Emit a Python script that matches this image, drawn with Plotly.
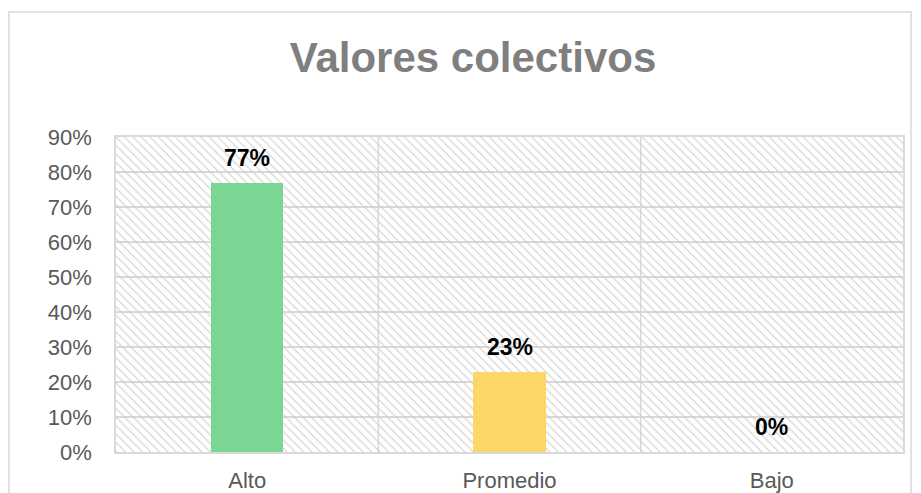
import plotly.graph_objects as go

categories = ["Alto", "Promedio", "Bajo"]
values = [0.77, 0.23, 0.0]
labels = ["77%", "23%", "0%"]
bar_colors = ["#7BD593", "#FDD66A", "#A5A5A5"]
ytick_vals = [0, 0.1, 0.2, 0.3, 0.4, 0.5, 0.6, 0.7, 0.8, 0.9]
ytick_text = ["0%", "10%", "20%", "30%", "40%", "50%", "60%", "70%", "80%", "90%"]
title_text = "Valores colectivos"

W, H = 921, 493
L, R, T, B = 116, 18, 137, 41
pw, ph = W - L - R, H - T - B

fig = go.Figure()

# hatched plot-area background
fig.add_trace(go.Bar(
    x=categories, y=[ytick_vals[-1]] * len(categories), width=1,
    marker=dict(color="rgba(0,0,0,0)", line=dict(width=0),
                pattern=dict(shape="\\", size=6, solidity=0.16,
                             fgcolor="#cccccc", bgcolor="rgba(0,0,0,0)",
                             fillmode="replace")),
    hoverinfo="skip", showlegend=False,
))

fig.add_trace(go.Bar(
    x=categories, y=values, width=0.275,
    marker=dict(color=bar_colors, line=dict(width=0)),
    showlegend=False,
))

for c, v, t in zip(categories, values, labels):
    fig.add_annotation(x=c, y=v, text="<b>%s</b>" % t, showarrow=False,
                       yanchor="bottom", yshift=10,
                       font=dict(family="Liberation Sans, Arial", size=23, color="#000000"))

# category separators
for xv in [0.5, 1.5]:
    fig.add_shape(type="line", xref="x", yref="y", x0=xv, x1=xv, y0=0, y1=0.9,
                  line=dict(color="#d9d9d9", width=1.5), layer="below")

# outer chart border
fig.add_shape(type="rect", xref="paper", yref="paper",
              x0=(9 - L) / pw, x1=(911 - L) / pw,
              y0=(H - B - 520) / ph, y1=(H - B - 12) / ph,
              line=dict(color="#d9d9d9", width=1.5), layer="below")

fig.update_layout(
    width=W, height=H,
    margin=dict(l=L, r=R, t=T, b=B, autoexpand=False),
    paper_bgcolor="white", plot_bgcolor="white",
    barmode="overlay",
    bargap=0,
    title=dict(text="<b>%s</b>" % title_text, x=473 / W, xref="container", xanchor="center",
               y=1 - 57 / H, yref="container", yanchor="middle",
               font=dict(family="Liberation Sans, Arial", size=42, color="#7F7F7F")),
    font=dict(family="Liberation Sans, Arial", size=22, color="#595959"),
)
fig.update_xaxes(type="category", range=[-0.5, 2.5], showgrid=False, automargin=False,
                 showline=True, mirror=True, linecolor="#d9d9d9", linewidth=1.5,
                 ticks="outside", ticklen=8, tickcolor="rgba(0,0,0,0)",
                 tickfont=dict(size=22, color="#595959"))
fig.update_yaxes(range=[0, 0.9], tickvals=ytick_vals, ticktext=ytick_text, automargin=False,
                 showgrid=True, gridcolor="#d9d9d9", gridwidth=1.5,
                 showline=True, mirror=True, linecolor="#d9d9d9", linewidth=1.5,
                 zeroline=False,
                 ticks="outside", ticklen=18, tickcolor="rgba(0,0,0,0)",
                 tickfont=dict(size=22, color="#595959"))

fig.write_html("out.html", config={"displayModeBar": False},
               post_script="document.body.style.margin='0';document.body.style.overflow='hidden';")
